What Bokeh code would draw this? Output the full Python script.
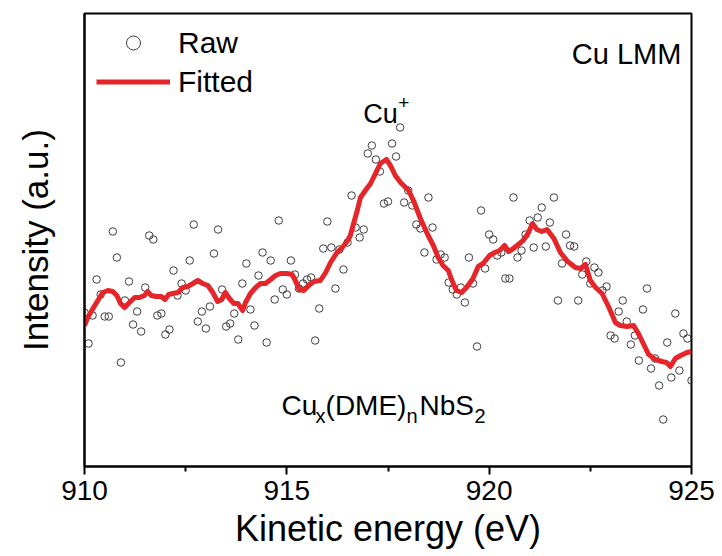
from bokeh.plotting import figure
from bokeh.models import Range1d, FixedTicker, Label, Legend, LegendItem, ColumnDataSource
from bokeh.embed import file_html
from bokeh.resources import INLINE

# Raw data: kinetic energy (eV) and intensity (a.u.)
raw_energy = [
    910.0, 910.1, 910.2, 910.3, 910.4, 910.5, 910.6, 910.7, 910.8, 910.9,
    911.0, 911.1, 911.2, 911.3, 911.4, 911.5, 911.6, 911.7, 911.8, 911.9,
    912.0, 912.1, 912.2, 912.3, 912.4, 912.5, 912.6, 912.7, 912.8, 912.9,
    913.0, 913.1, 913.2, 913.3, 913.4, 913.5, 913.6, 913.7, 913.8, 913.9,
    914.0, 914.1, 914.2, 914.3, 914.4, 914.5, 914.6, 914.7, 914.8, 914.9,
    915.0, 915.1, 915.2, 915.3, 915.4, 915.5, 915.6, 915.7, 915.8, 915.9,
    916.0, 916.1, 916.2, 916.3, 916.4, 916.5, 916.6, 916.7, 916.8, 916.9,
    917.0, 917.1, 917.2, 917.3, 917.4, 917.5, 917.6, 917.7, 917.8, 917.9,
    918.0, 918.1, 918.2, 918.3, 918.4, 918.5, 918.6, 918.7, 918.8, 918.9,
    919.0, 919.1, 919.2, 919.3, 919.4, 919.5, 919.6, 919.7, 919.8, 919.9,
    920.0, 920.1, 920.2, 920.3, 920.4, 920.5, 920.6, 920.7, 920.8, 920.9,
    921.0, 921.1, 921.2, 921.3, 921.4, 921.5, 921.6, 921.7, 921.8, 921.9,
    922.0, 922.1, 922.2, 922.3, 922.4, 922.5, 922.6, 922.7, 922.8, 922.9,
    923.0, 923.1, 923.2, 923.3, 923.4, 923.5, 923.6, 923.7, 923.8, 923.9,
    924.0, 924.1, 924.2, 924.3, 924.4, 924.5, 924.6, 924.7, 924.8, 924.9,
    925.0,
]
raw_intensity = [
    154, 123, 151, 187, 172, 150, 150, 235, 209, 104,
    166, 185, 142, 155, 135, 179, 231, 227, 151, 153,
    132, 137, 196, 171, 183, 176, 206, 242, 145, 155,
    138, 160, 213, 237, 177, 140, 143, 153, 127, 183,
    203, 157, 141, 191, 214, 124, 206, 167, 246, 177,
    172, 206, 192, 178, 183, 187, 189, 126, 158, 218,
    245, 219, 178, 217, 197, 224, 271, 239, 229, 237,
    313, 321, 307, 295, 263, 265, 323, 310, 339, 264,
    276, 261, 242, 238, 214, 269, 239, 207, 212, 209,
    184, 177, 172, 179, 164, 209, 183, 120, 256, 198,
    232, 227, 211, 214, 188, 188, 269, 209, 216, 232,
    246, 219, 249, 259, 220, 244, 269, 166, 203, 232,
    221, 220, 166, 192, 205, 183, 199, 194, 176, 180,
    131, 128, 155, 166, 145, 122, 131, 106, 157, 178,
    98, 108, 81, 47, 124, 89, 153, 96, 133, 128,
    86,
]

# Fitted curve
fit_energy = [
    910.00, 910.08, 910.21, 910.33, 910.45, 910.58, 910.70, 910.80, 910.89, 910.99,
    911.11, 911.24, 911.36, 911.48, 911.56, 911.65, 911.77, 911.90, 911.99, 912.08,
    912.18, 912.31, 912.43, 912.55, 912.68, 912.80, 912.92, 913.05, 913.17, 913.29,
    913.39, 913.48, 913.58, 913.69, 913.79, 913.91, 913.98, 914.10, 914.23, 914.35,
    914.47, 914.60, 914.72, 914.84, 915.01, 915.13, 915.21, 915.30, 915.42, 915.54,
    915.67, 915.83, 915.96, 916.08, 916.24, 916.37, 916.49, 916.57, 916.65, 916.74,
    916.82, 916.94, 917.07, 917.19, 917.31, 917.46, 917.56, 917.68, 917.81, 918.01,
    918.14, 918.30, 918.48, 918.62, 918.74, 918.86, 918.99, 919.07, 919.19, 919.32,
    919.44, 919.60, 919.73, 919.85, 920.01, 920.14, 920.26, 920.38, 920.48, 920.60,
    920.72, 920.84, 920.96, 921.07, 921.18, 921.30, 921.43, 921.60, 921.76, 921.94,
    922.13, 922.26, 922.38, 922.50, 922.63, 922.79, 922.96, 923.12, 923.24, 923.41,
    923.57, 923.70, 923.82, 923.94, 924.11, 924.27, 924.38, 924.48, 924.60, 924.73,
    924.89, 925.00,
]
fit_intensity = [
    141, 149, 158, 166, 174, 176, 175, 171, 163, 159,
    164, 169, 169, 171, 175, 171, 170, 170, 167, 172,
    173, 174, 179, 180, 183, 186, 183, 181, 174, 165,
    167, 174, 168, 163, 163, 156, 164, 173, 179, 183,
    183, 187, 191, 193, 193, 192, 186, 177, 176, 181,
    185, 186, 194, 204, 214, 219, 225, 231, 243, 256,
    269, 276, 283, 293, 303, 307, 301, 291, 284, 276,
    265, 248, 232, 221, 209, 201, 196, 187, 176, 174,
    179, 188, 200, 203, 211, 214, 216, 221, 215, 218,
    222, 226, 233, 243, 237, 235, 237, 228, 214, 205,
    199, 198, 202, 186, 179, 173, 159, 144, 141, 140,
    141, 132, 122, 112, 107, 105, 104, 100, 108, 111,
    114, 115,
]

x_ticks = [910, 915, 920, 925]
x_minor_ticks = [912.5, 917.5, 922.5]

FONT = "Liberation Sans"

p = figure(
    width=722, height=556,
    x_range=Range1d(910, 925), y_range=Range1d(0, 453),
    output_backend="svg", toolbar_location=None,
    min_border_left=84, min_border_right=31, min_border_top=13, min_border_bottom=90,
)
p.xgrid.visible = False
p.ygrid.visible = False
p.outline_line_color = "black"
p.outline_line_width = 2
p.outline_line_alpha = 1.0
p.background_fill_color = "white"
p.border_fill_color = "white"

raw_src = ColumnDataSource(dict(x=raw_energy, y=raw_intensity))
fit_src = ColumnDataSource(dict(x=fit_energy, y=fit_intensity))

r_raw = p.scatter("x", "y", source=raw_src, marker="circle", size=7.5,
                  fill_color=None, line_color="#3c3c3c", line_width=1)
r_fit = p.line("x", "y", source=fit_src, line_color="#E4262B", line_width=5,
               line_join="round")

xa = p.xaxis[0]
xa.ticker = FixedTicker(ticks=x_ticks, minor_ticks=x_minor_ticks)
xa.axis_line_width = 2
xa.major_tick_line_width = 2
xa.minor_tick_line_width = 2
xa.major_tick_out = 8
xa.major_tick_in = 0
xa.minor_tick_out = 5
xa.minor_tick_in = 0
xa.major_label_text_font = FONT
xa.major_label_text_font_size = "28px"
xa.major_label_text_color = "black"
xa.major_label_standoff = 6
xa.axis_label = "Kinetic energy (eV)"
xa.axis_label_text_font = FONT
xa.axis_label_text_font_size = "36px"
xa.axis_label_text_font_style = "normal"
xa.axis_label_text_color = "black"
xa.axis_label_standoff = 5

ya = p.yaxis[0]
ya.ticker = FixedTicker(ticks=[])
ya.major_tick_line_color = None
ya.minor_tick_line_color = None
ya.major_tick_out = 0
ya.major_label_standoff = 0
ya.major_label_text_font_size = "0px"
ya.axis_line_width = 2
ya.axis_label = "Intensity (a.u.)"
ya.axis_label_text_font = FONT
ya.axis_label_text_font_size = "35px"
ya.axis_label_text_font_style = "normal"
ya.axis_label_text_color = "black"
ya.axis_label_standoff = 30

legend = Legend(
    items=[LegendItem(label="Raw", renderers=[r_raw]),
           LegendItem(label="Fitted", renderers=[r_fit])],
    location="top_left", glyph_width=74, glyph_height=35, label_height=35,
    label_standoff=8, spacing=4, padding=13, margin=12,
    border_line_color=None, background_fill_alpha=0,
    label_text_font=FONT, label_text_font_size="30px", label_text_color="black",
)
p.add_layout(legend)

# Annotations
p.add_layout(Label(x=924.75, y=413, text="Cu LMM", text_align="right",
                   text_baseline="alphabetic", text_font=FONT,
                   text_font_size="29px", text_color="black"))

p.add_layout(Label(x=916.89, y=353, text="Cu", text_align="left",
                   text_baseline="alphabetic", text_font=FONT,
                   text_font_size="27px", text_color="black"))
p.add_layout(Label(x=916.89, y=353, x_offset=35, y_offset=11, text="+",
                   text_align="left", text_baseline="alphabetic", text_font=FONT,
                   text_font_size="19px", text_color="black"))

formula_parts = [("Cu", 0, 0, "28px"), ("x", 34, -10, "20px"), ("(DME)", 44, 0, "28px"),
                 ("n", 125, -10, "20px"), ("NbS", 138, 0, "28px"), ("2", 193, -10, "20px")]
for txt, dx, dy, fs in formula_parts:
    p.add_layout(Label(x=914.87, y=61, x_offset=dx, y_offset=dy, text=txt,
                       text_align="left", text_baseline="alphabetic", text_font=FONT,
                       text_font_size=fs, text_color="black"))

open("out.html", "w").write(file_html(p, INLINE))
